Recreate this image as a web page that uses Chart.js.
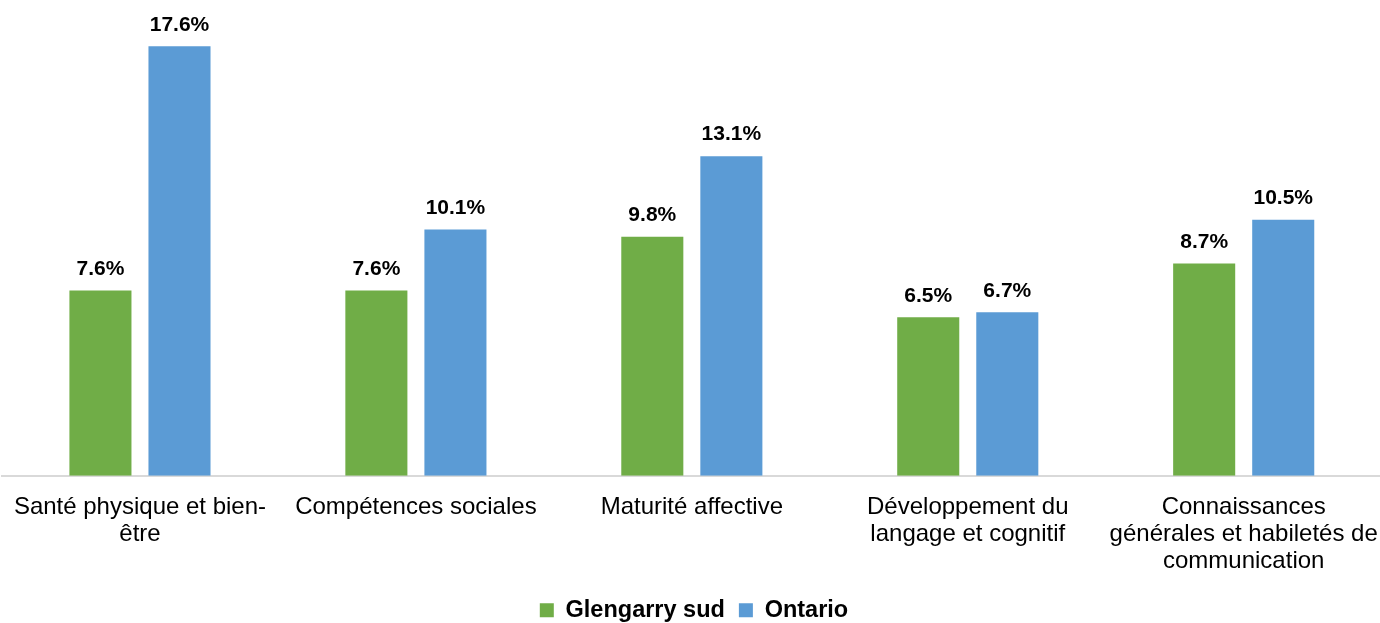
<!DOCTYPE html>
<html>
<head>
<meta charset="utf-8">
<script src="https://cdn.jsdelivr.net/npm/chart.js@4"></script>
<style>
  html, body { margin: 0; padding: 0; background: #fff; overflow: hidden; }
  #wrap { width: 1388px; height: 632px; }
</style>
</head>
<body>
<div id="wrap"><canvas id="domainesChart"></canvas></div>
<script>
const categories = [
    ['Santé physique et bien-', 'être'],
    ['Compétences sociales'],
    ['Maturité affective'],
    ['Développement du', 'langage et cognitif'],
    ['Connaissances', 'générales et habiletés de', 'communication']
];
const glengarrySud = [7.6, 7.6, 9.8, 6.5, 8.7];
const ontario = [17.6, 10.1, 13.1, 6.7, 10.5];
const seriesNames = ['Glengarry sud', 'Ontario'];

Chart.defaults.font.family = '"Liberation Sans", Arial, sans-serif';
Chart.defaults.color = '#000';

// étiquettes de valeur au-dessus des barres
const valueLabels = {
    id: 'valueLabels',
    afterDatasetsDraw(chart) {
        const ctx = chart.ctx;
        ctx.save();
        ctx.font = 'bold 21px "Liberation Sans", Arial, sans-serif';
        ctx.fillStyle = '#000';
        ctx.textAlign = 'center';
        ctx.textBaseline = 'bottom';
        chart.data.datasets.forEach(function(ds, i) {
            chart.getDatasetMeta(i).data.forEach(function(bar, j) {
                ctx.fillText(ds.data[j].toFixed(1) + '%', bar.x, bar.y - 11);
            });
        });
        ctx.restore();
    }
};

const config = {
    type: 'bar',
    data: {
        labels: categories,
        datasets: [
            {
                label: seriesNames[0],
                data: glengarrySud,
                backgroundColor: '#70AD47',
                categoryPercentage: 0.573,
                barPercentage: 0.785
            },
            {
                label: seriesNames[1],
                data: ontario,
                backgroundColor: '#5B9BD5',
                categoryPercentage: 0.573,
                barPercentage: 0.785
            }
        ]
    },
    options: {
        responsive: true,
        maintainAspectRatio: false,
        animation: false,
        layout: {
            padding: { left: 2, right: 2, top: 0, bottom: 0 }
        },
        scales: {
            x: {
                grid: { display: false },
                border: { display: true, color: '#d9d9d9', width: 2 },
                ticks: {
                    font: { size: 24, lineHeight: 1.12 },
                    color: '#000',
                    padding: 10,
                    maxRotation: 0,
                    autoSkip: false
                }
            },
            y: {
                display: false,
                min: 0,
                max: 19.5
            }
        },
        plugins: {
            legend: {
                position: 'bottom',
                labels: {
                    boxWidth: 14,
                    boxHeight: 14,
                    padding: 14,
                    color: '#000',
                    font: { size: 23.5, weight: 'bold' }
                }
            },
            tooltip: { enabled: false }
        }
    },
    plugins: [valueLabels]
};

var ctx = document.getElementById('domainesChart').getContext('2d');
var domainesChart = new Chart(ctx, config);
</script>
</body>
</html>
